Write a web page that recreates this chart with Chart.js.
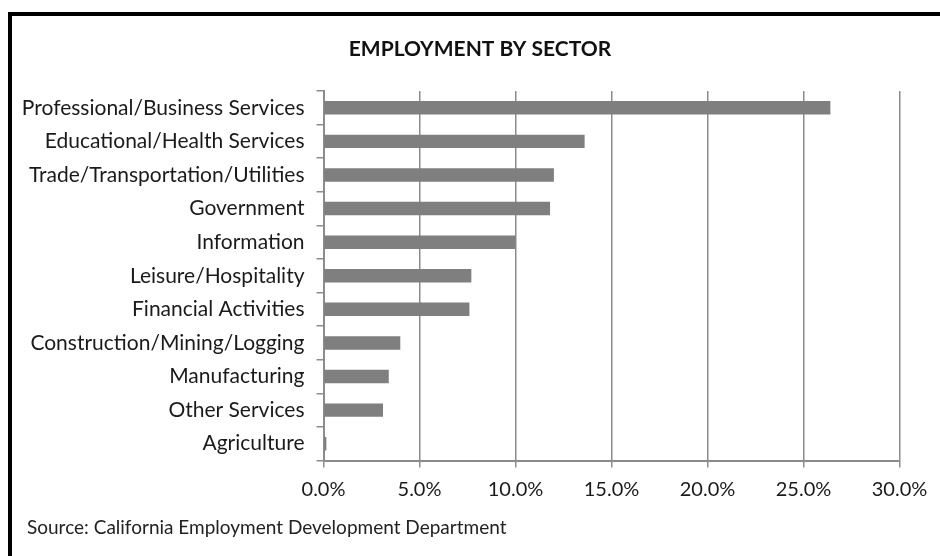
<!DOCTYPE html>
<html>
<head>
<meta charset="utf-8">
<script src="https://cdn.jsdelivr.net/npm/chart.js@4/dist/chart.umd.min.js"></script>
<style>
  body { margin: 0; background: #fff; }
  #wrap { position: relative; width: 940px; height: 556px; overflow: hidden; }
  #frame { position: absolute; left: 8px; top: 12px; width: 940px; height: 560px;
           border-top: 4px solid #000; border-left: 4px solid #000; }
  canvas { position: absolute; left: 0; top: 0; }
</style>
</head>
<body>
<div id="wrap">
  <div id="frame"></div>
  <canvas id="sectorChart" width="940" height="556"></canvas>
</div>
<script>
const sectors = [
    'Professional/Business Services',
    'Educational/Health Services',
    'Trade/Transportation/Utilities',
    'Government',
    'Information',
    'Leisure/Hospitality',
    'Financial Activities',
    'Construction/Mining/Logging',
    'Manufacturing',
    'Other Services',
    'Agriculture'
];
const shares = [26.4, 13.6, 12.0, 11.8, 10.0, 7.7, 7.6, 4.0, 3.4, 3.1, 0.15];
const xTicks = [0, 5, 10, 15, 20, 25, 30];

const chartTitle = 'EMPLOYMENT BY SECTOR';
const sourceNote = 'Source: California Employment Development Department';

const fontFamily = 'Lato, "Open Sans", sans-serif';
const gridGrey = '#8c8c8c';

// title and source note are placed by hand (title is off-centre in the original)
const headerText = {
    id: 'headerText',
    afterDraw(chart) {
        const c = chart.ctx;
        c.save();
        c.textBaseline = 'middle';
        c.font = 'bold 21px ' + fontFamily;
        c.fillStyle = '#111';
        c.textAlign = 'center';
        c.fillText(chartTitle, 480, 49);
        c.font = '19px ' + fontFamily;
        c.fillStyle = '#222';
        c.textAlign = 'left';
        c.fillText(sourceNote, 27, 528);
        c.restore();
    }
};

document.addEventListener("DOMContentLoaded", function () {
    const ctx = document.getElementById("sectorChart");

    new Chart(ctx, {
        type: 'bar',
        data: {
            labels: sectors,
            datasets: [{
                data: shares,
                backgroundColor: '#7f7f7f',
                borderWidth: 0,
                barPercentage: 0.4,
                categoryPercentage: 1
            }]
        },
        options: {
            indexAxis: 'y',
            responsive: false,
            animation: false,
            layout: { padding: { left: 16, right: 40.5, top: 91, bottom: 39.5 } },
            plugins: {
                legend: { display: false },
                tooltip: { enabled: false },
                title: { display: false }
            },
            scales: {
                x: {
                    min: 0,
                    max: 30,
                    afterBuildTicks: function (scale) {
                        scale.ticks = xTicks.map(v => ({ value: v }));
                    },
                    afterFit: function (scale) { scale.height = 56; },
                    ticks: {
                        color: '#1a1a1a',
                        padding: 10,
                        font: { family: fontFamily, size: 20 },
                        callback: v => v.toFixed(1) + '%'
                    },
                    grid: { color: gridGrey, lineWidth: 1.5, tickLength: 7 },
                    border: { color: gridGrey, width: 2 }
                },
                y: {
                    afterFit: function (scale) { scale.width = 307.5; },
                    ticks: {
                        color: '#1a1a1a',
                        padding: 12,
                        font: { family: fontFamily, size: 21 }
                    },
                    grid: {
                        offset: true,
                        drawOnChartArea: false,
                        color: gridGrey,
                        lineWidth: 1.5,
                        tickLength: 7
                    },
                    border: { color: gridGrey, width: 2 }
                }
            }
        },
        plugins: [headerText]
    });
});
</script>
</body>
</html>
